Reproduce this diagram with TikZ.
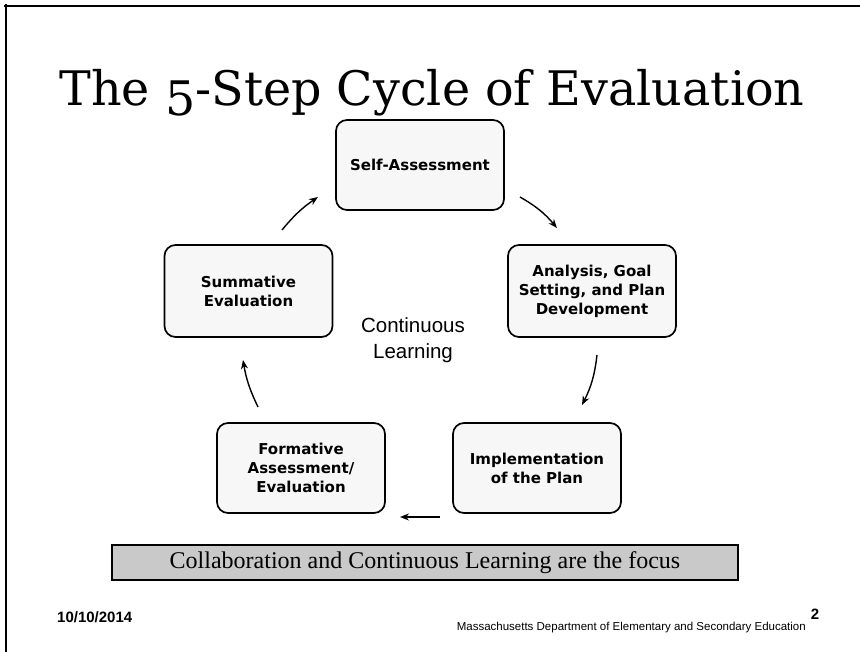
\documentclass[tikz,border=0pt]{standalone}
\usepackage{fontspec}
\setmainfont{Latin Modern Roman}
\newfontfamily\titlefont{DejaVu Serif}
\newfontfamily\boxfont{DejaVu Sans}
\newfontfamily\sansfont{Liberation Sans}
\newfontfamily\bannerfont{Liberation Serif}
\usetikzlibrary{arrows.meta}

\begin{document}
\begin{tikzpicture}[x=1pt,y=-1pt,
  stepbox/.style={draw, line width=1.7pt, rounded corners=11pt, fill=gray!6,
    minimum width=168pt, minimum height=90pt, align=center, inner sep=0pt,
    font=\boxfont\bfseries\fontsize{15}{19}\selectfont},
  flow/.style={-{Stealth[length=9pt,width=7pt]}, line width=1.4pt},
]
\useasboundingbox (0,0) rectangle (860,652);

% page frame (top and left edges)
\draw[line width=2pt] (4,6) -- (860,6);
\draw[line width=2pt] (6,4) -- (6,652);

% title, with a hanging old-style five
\node[anchor=base, inner sep=0pt] (title) at (432,106)
  {\resizebox{745pt}{!}{\titlefont The \raisebox{-0.2em}{5}-Step Cycle of Evaluation}};

% the five steps
\node[stepbox] (self) at (420,165) {Self-Assessment};
\node[stepbox, minimum height=92pt] (analysis) at (592,291) {Analysis, Goal\\Setting, and Plan\\Development};
\node[stepbox] (impl) at (537,468) {Implementation\\of the Plan};
\node[stepbox] (formative) at (301,468) {Formative\\Assessment/\\Evaluation};
\node[stepbox, minimum height=92pt] (summative) at (248.5,291) {Summative\\Evaluation};

% centre label
\node[align=center, font=\sansfont\fontsize{20.5}{26}\selectfont] (hub) at (413,340) {Continuous\\Learning};

% arrow end points
\coordinate (a1s) at (520,197); \coordinate (a1e) at (557,228);
\coordinate (a2s) at (597,355); \coordinate (a2e) at (582,405);
\coordinate (a3s) at (440,517); \coordinate (a3e) at (400,517);
\coordinate (a4s) at (258,407); \coordinate (a4e) at (243,360);
\coordinate (a5s) at (282,230); \coordinate (a5e) at (318,197);

\draw[flow] (a1s) to[bend left=10] (a1e);
\draw[flow] (a2s) to[bend left=10] (a2e);
\draw[flow] (a3s) -- (a3e);
\draw[flow] (a4s) to[bend left=8] (a4e);
\draw[flow] (a5s) to[bend left=8] (a5e);

% banner
\node[draw, line width=2pt, fill=gray!42, minimum width=626pt, minimum height=35pt,
  inner sep=0pt, font=\bannerfont\fontsize{24}{26}\selectfont] (banner) at (425,562.5)
  {Collaboration and Continuous Learning are the focus};

% footer
\node[anchor=west, inner sep=0pt, font=\sansfont\bfseries\fontsize{15}{16}\selectfont] (date) at (57,617) {10/10/2014};
\node[inner sep=0pt, font=\sansfont\bfseries\fontsize{15}{16}\selectfont] (page) at (815,614) {2};
\node[anchor=east, inner sep=0pt, font=\sansfont\fontsize{11.5}{12}\selectfont] (dept) at (806,628)
  {Massachusetts Department of Elementary and Secondary Education};
\end{tikzpicture}
\end{document}
